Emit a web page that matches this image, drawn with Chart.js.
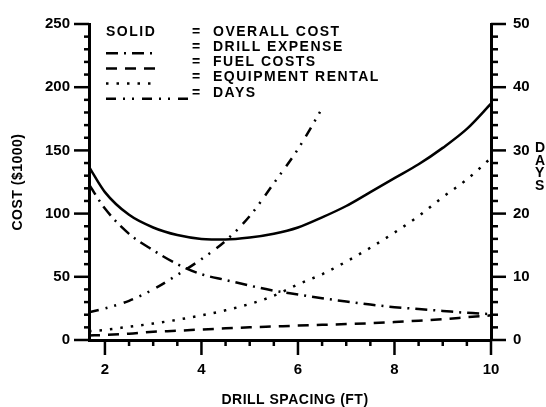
<!DOCTYPE html>
<html>
<head>
<meta charset="utf-8">
<script src="https://cdn.jsdelivr.net/npm/chart.js@4.4.1/dist/chart.umd.min.js"></script>
<style>
  html, body { margin: 0; padding: 0; background: #fff; }
  #wrap { width: 546px; height: 407px; }
</style>
</head>
<body>
<div id="wrap"><canvas id="chart"></canvas></div>
<script>
// drill spacing (ft) and the cost curves ($1000)
const spacing = [1.67, 2, 2.5, 3, 3.5, 4, 4.5, 5, 5.5, 6, 6.5, 7, 7.5, 8, 8.5, 9, 9.5, 10];
const overallCost = [137, 117, 99, 89, 83, 80, 79.5, 81, 84, 89, 97, 106, 117, 128, 139, 152, 167, 187];
const drillExpense = [123, 104, 84, 71, 60, 52, 47.5, 43, 39, 36, 33, 30.5, 28, 26, 24.5, 23, 21.5, 20.5];
const fuelCosts = [3.5, 4, 5, 6.5, 7.3, 8.3, 9.2, 10, 10.7, 11.4, 12, 12.6, 13.3, 14.2, 15.3, 16.5, 18, 19.5];
const equipmentRental = [7, 8, 10.5, 13, 16, 19.5, 23.5, 28.5, 35, 44, 52, 62, 73, 85, 98, 113, 127, 144];
// days curve stops early
const daysSpacing = [1.67, 2, 2.5, 3, 3.5, 4, 4.5, 5, 5.5, 6, 6.52];
const days = [4.4, 5, 6.2, 8, 10.3, 12.8, 15.7, 19.6, 24.8, 30.2, 36.9];

const costTicks = [0, 50, 100, 150, 200, 250];
const dayTicks = [0, 10, 20, 30, 40, 50];
const spacingTicks = [2, 4, 6, 8, 10];

const legendLabels = ['OVERALL COST', 'DRILL EXPENSE', 'FUEL COSTS', 'EQUIPMENT RENTAL', 'DAYS'];

const INK = '#000';
const FONT = '"Liberation Sans", Arial, sans-serif';

const DASH_DRILL = [12, 6, 2, 6];
const DASH_FUEL = [11, 8];
const DASH_EQUIP = [2.5, 8];
const DASH_DAYS = [10, 7, 2, 7, 2, 8];

const pts = (xs, ys) => xs.map((x, i) => ({ x: x, y: ys[i] }));

const curve = (label, data, dash, axis) => ({
  label: label,
  data: data,
  yAxisID: axis || 'y',
  borderColor: INK,
  borderWidth: 2.5,
  borderDash: dash,
  borderCapStyle: 'butt',
  pointRadius: 0,
  fill: false,
  cubicInterpolationMode: 'monotone'
});

const setTicks = list => scale => { scale.ticks = list.map(v => ({ value: v })); };

// keep the label padding from pushing the plot area down
const fitSide = w => s => { s.width = w; s.paddingTop = 0; s.paddingBottom = 0; };

// tick marks, titles and the hand-made legend
const decorations = {
  id: 'decorations',
  afterDraw(chart) {
    const ctx = chart.ctx;
    const sy = chart.scales.y, sy2 = chart.scales.y2, sx = chart.scales.x;
    const left = sy.right, right = sy2.left, bottom = sx.top;
    ctx.save();
    ctx.setLineDash([]);
    ctx.strokeStyle = '#000000';
    ctx.fillStyle = '#000000';
    ctx.lineWidth = 2.5;
    const mark = (x1, y1, x2, y2) => {
      ctx.beginPath(); ctx.moveTo(x1, y1); ctx.lineTo(x2, y2); ctx.stroke();
    };
    for (let v = 0; v <= 250; v += 10) {
      const y = sy.getPixelForValue(v);
      mark(left, y, left - (v % 50 === 0 ? 15 : 5), y);
    }
    for (let v = 0; v <= 50; v += 2) {
      const y = sy2.getPixelForValue(v);
      mark(right, y, right + (v % 10 === 0 ? 15 : 7), y);
    }
    for (let v = 2; v <= 10; v += 0.5) {
      const x = sx.getPixelForValue(v);
      mark(x, bottom, x, bottom + (v % 2 === 0 ? 15 : 6));
    }

    // axis titles
    ctx.font = 'bold 14px ' + FONT;
    ctx.textAlign = 'center';
    ctx.textBaseline = 'middle';
    ctx.letterSpacing = '0.5px';
    ctx.fillText('DRILL SPACING (FT)', 295, 400);
    ctx.save();
    ctx.translate(18, 182);
    ctx.rotate(-Math.PI / 2);
    ctx.fillText('COST ($1000)', 0, 0);
    ctx.restore();
    ctx.textAlign = 'left';
    ['D', 'A', 'Y', 'S'].forEach((ch, i) => ctx.fillText(ch, 535, 148 + i * 12.7));

    // legend
    ctx.letterSpacing = '1.5px';
    const rowY = i => 32 + i * 15.2;
    ctx.fillText('SOLID', 106, rowY(0));
    legendLabels.forEach((t, i) => {
      ctx.fillText('=', 192, rowY(i));
      ctx.fillText(t, 213, rowY(i));
    });
    const sample = (i, dash, x2) => {
      ctx.setLineDash(dash);
      ctx.lineWidth = 2.5;
      const y = rowY(i) + 6;
      ctx.beginPath(); ctx.moveTo(106, y); ctx.lineTo(x2, y); ctx.stroke();
    };
    sample(1, DASH_DRILL, 158);
    sample(2, DASH_FUEL, 158);
    sample(3, DASH_EQUIP, 158);
    sample(4, DASH_DAYS, 190);
    ctx.restore();
  }
};

const tickFont = { family: FONT, size: 15, weight: 'bold' };

new Chart(document.getElementById('chart'), {
  type: 'line',
  data: {
    datasets: [
      curve('OVERALL COST', pts(spacing, overallCost), []),
      curve('DRILL EXPENSE', pts(spacing, drillExpense), DASH_DRILL),
      curve('FUEL COSTS', pts(spacing, fuelCosts), DASH_FUEL),
      curve('EQUIPMENT RENTAL', pts(spacing, equipmentRental), DASH_EQUIP),
      curve('DAYS', pts(daysSpacing, days), DASH_DAYS, 'y2')
    ]
  },
  options: {
    responsive: true,
    maintainAspectRatio: false,
    animation: false,
    devicePixelRatio: 1,
    layout: { padding: { top: 24, left: 0, right: 0, bottom: 0 } },
    scales: {
      x: {
        type: 'linear',
        min: 1.67,
        max: 10,
        afterBuildTicks: setTicks(spacingTicks),
        afterFit: s => { s.height = 67; s.paddingLeft = 0; s.paddingRight = 0; },
        ticks: { color: INK, font: tickFont, padding: 13, maxRotation: 0, autoSkip: false },
        grid: { display: false },
        border: { display: true, color: INK, width: 3 }
      },
      y: {
        position: 'left',
        min: 0,
        max: 250,
        afterBuildTicks: setTicks(costTicks),
        afterFit: fitSide(89),
        ticks: { color: INK, font: tickFont, padding: 11, autoSkip: false },
        grid: { display: false },
        border: { display: true, color: INK, width: 3 }
      },
      y2: {
        position: 'right',
        min: 0,
        max: 50,
        afterBuildTicks: setTicks(dayTicks),
        afterFit: fitSide(55),
        ticks: { color: INK, font: tickFont, padding: 14, autoSkip: false },
        grid: { display: false },
        border: { display: true, color: INK, width: 3 }
      }
    },
    plugins: {
      legend: { display: false },
      tooltip: { enabled: false }
    }
  },
  plugins: [decorations]
});
</script>
</body>
</html>
